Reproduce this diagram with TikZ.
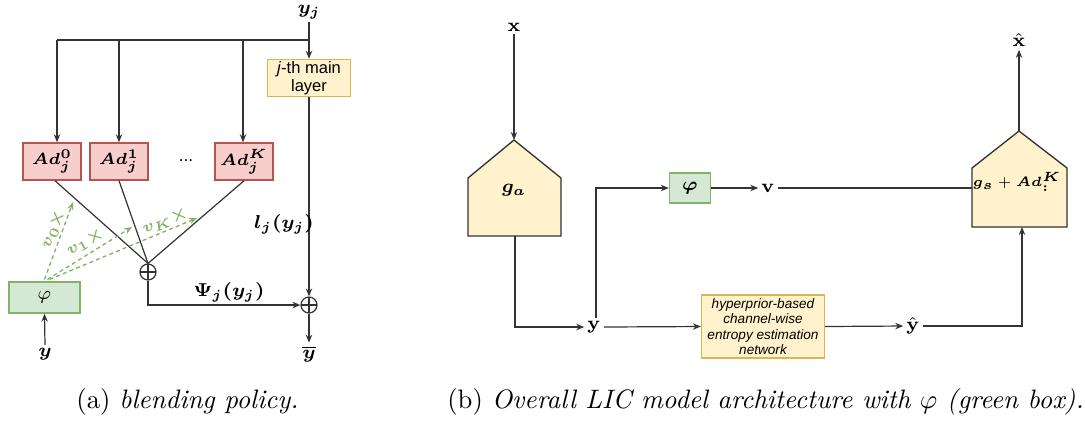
\documentclass[tikz,border=0pt]{standalone}
\usepackage{fontspec}
\usepackage{amsmath,bm}
\newfontfamily\arial{Liberation Sans}
\usetikzlibrary{arrows.meta,calc}
\definecolor{redfill}{HTML}{F8CECC}
\definecolor{redline}{HTML}{B85450}
\definecolor{ylwfill}{HTML}{FFF2CC}
\definecolor{ylwline}{HTML}{D6B656}
\definecolor{grnfill}{HTML}{D5E8D4}
\definecolor{grnline}{HTML}{82B366}
\definecolor{lncol}{HTML}{333333}
\tikzset{
  conn/.style={draw=lncol, line width=0.45pt},
  arr/.style={conn, -{Stealth[length=3pt,width=2.4pt]}},
  garr/.style={draw=grnline, line width=0.5pt, dash pattern=on 1.5pt off 1.2pt, -{Stealth[length=3pt,width=2.4pt]}},
  mathlab/.style={font=\fontsize{6.6}{8}\selectfont, inner sep=1pt},
  biglab/.style={font=\fontsize{7.4}{9}\selectfont, inner sep=1pt},
  redbox/.style={draw=redline, fill=redfill, line width=0.5pt, minimum width=21.75pt, minimum height=13.9pt, inner sep=0pt, font=\fontsize{6.2}{7.5}\selectfont},
  ylwbox/.style={draw=ylwline, fill=ylwfill, line width=0.5pt, inner sep=0pt},
  grnbox/.style={draw=grnline, fill=grnfill, line width=0.5pt, inner sep=0pt, font=\fontsize{7}{8.5}\selectfont},
  pent/.style={draw=lncol, fill=ylwfill, line width=0.5pt},
  gtxt/.style={text=grnline, font=\fontsize{6}{7.5}\selectfont, inner sep=0pt},
  oplus/.style={circle, draw=lncol, line width=0.45pt, minimum size=6pt, inner sep=0pt,
    path picture={\draw[lncol, line width=0.45pt] (path picture bounding box.north) -- (path picture bounding box.south) (path picture bounding box.west) -- (path picture bounding box.east);}},
}
\begin{document}
\begin{tikzpicture}[x=0.375pt,y=-0.375pt]
\useasboundingbox (0,0) rectangle (1085,421);
% ---------- (a) ----------
\node[mathlab] (yj) at (309,12) {$\bm{y_j}$};
\coordinate (br) at (309,40);
\node[ylwbox, minimum width=31.1pt, minimum height=13.9pt, font=\arial\fontsize{6.2}{6.8}\selectfont, align=center] (ml) at (309,78) {\textit{j}-th main\\layer};
\node[redbox] (ad0) at (52,161.5) {$\bm{Ad_j^0}$};
\node[redbox] (ad1) at (119,161.5) {$\bm{Ad_j^1}$};
\node[redbox] (adK) at (244,161.5) {$\bm{Ad_j^K}$};
\node[font=\arial\fontsize{6.5}{8}\selectfont] (dots) at (186,161) {...};
\coordinate (t0) at (57,40);
\coordinate (t1) at (119,40);
\coordinate (tK) at (243,40);
\draw[arr] (yj.south) -- (ml.north);
\draw[conn] (br) -- (t0);
\draw[arr] (t0) -- (t0 |- ad0.north);
\draw[arr] (t1) -- (ad1.north);
\draw[arr] (tK) -- (tK |- adK.north);
\node[oplus] (op1) at (148,272) {};
\node[oplus] (op2) at (309,305) {};
\draw[conn] ($(ad0.south)+(3,0)$) -- (op1.north);
\draw[conn] (ad1.south) -- (op1.north);
\draw[conn] (adK.south) -- (op1.north);
\draw[arr] (op1.south) |- (op2.west);
\draw[arr] (ml.south) -- (op2.north);
\node[mathlab] (lj) at (284,224) {$\bm{l_j(y_j)}$};
\node[mathlab] (psi) at (229,292) {$\bm{\Psi_j(y_j)}$};
\node[mathlab] (ybar) at (309,354) {$\overline{\bm{y}}$};
\draw[arr] (op2.south) -- (ybar.north);
\node[grnbox, minimum width=26.6pt, minimum height=11.6pt] (phiL) at (44.5,297.5) {$\varphi$};
\node[mathlab] (ylab) at (45,354) {$\bm{y}$};
\draw[arr] (ylab.north) -- (phiL.south);
\coordinate (e0) at (73,202);
\coordinate (e1) at (132,227);
\coordinate (eK) at (197,218);
\draw[garr] ($(phiL.north)+(0,-2)$) -- (e0);
\draw[garr] ($(phiL.north)+(3,-2)$) -- (e1);
\draw[garr] ($(phiL.north)+(5,-2)$) -- (eK);
\node[gtxt, rotate=68] (v0) at (53,229) {$\bm{v_0\times}$};
\node[gtxt, rotate=30] (v1) at (85,242) {$\bm{v_1\times}$};
\node[gtxt, rotate=22] (vK) at (165,221) {$\bm{v_K\times}$};
% ---------- (b) ----------
\node[biglab] (xlab) at (514,27) {$\bm{\mathbf{x}}$};
\coordinate (gaA) at (514,140);
\coordinate (gaB) at (515,236);
\draw[pent] (468,236) -- (468,178) -- (gaA) -- (561,178) -- (561,236) -- cycle;
\node[mathlab] (ga) at (514,190) {$\bm{g_a}$};
\draw[arr] (xlab.south) -- (gaA);
\node[biglab] (yR) at (594,327) {$\bm{\mathbf{y}}$};
\draw[arr] (gaB) |- (yR.west);
\node[grnbox, minimum width=15.4pt, minimum height=11.25pt] (phiR) at (690,188) {$\bm{\varphi}$};
\draw[arr] ($(yR.north)+(2,0)$) |- (phiR.west);
\node[biglab] (vlab) at (768,188) {$\bm{\mathbf{v}}$};
\draw[arr] (phiR.east) -- (vlab.west);
\coordinate (gsA) at (1019,131);
\coordinate (gsL) at (972,188);
\coordinate (gsB) at (1022,227);
\draw[pent] (972,227) -- (972,168) -- (gsA) -- (1067,168) -- (1067,227) -- cycle;
\draw[conn] (vlab.east) -- (gsL);
\node[font=\fontsize{5.5}{6.5}\selectfont, inner sep=1pt] (gs) at (1017,182) {$\bm{g_s}+\bm{Ad^K_{:}}$};
\node[biglab] (xhat) at (1019,40) {$\hat{\bm{\mathbf{x}}}$};
\draw[arr] (gsA) -- (xhat.south);
\node[ylwbox, minimum width=46.1pt, minimum height=23.6pt, font=\arial\itshape\fontsize{5.1}{5.8}\selectfont, align=center] (hp) at (763,326.5) {hyperprior-based\\channel-wise\\entropy estimation\\network};
\draw[arr] (yR.east) -- (hp.west);
\node[biglab] (yhat) at (913,326) {$\hat{\bm{\mathbf{y}}}$};
\draw[arr] (hp.east) -- (yhat.west);
\draw[arr] (yhat.east) -| (gsB);
% ---------- captions ----------
\node[font=\fontsize{10}{12}\selectfont] (capa) at (187.5,402) {(a) \textit{blending policy.}};
\node[font=\fontsize{10}{12}\selectfont] (capb) at (765.5,402) {(b) \textit{Overall LIC model architecture with $\varphi$ (green box).}};
\end{tikzpicture}
\end{document}
